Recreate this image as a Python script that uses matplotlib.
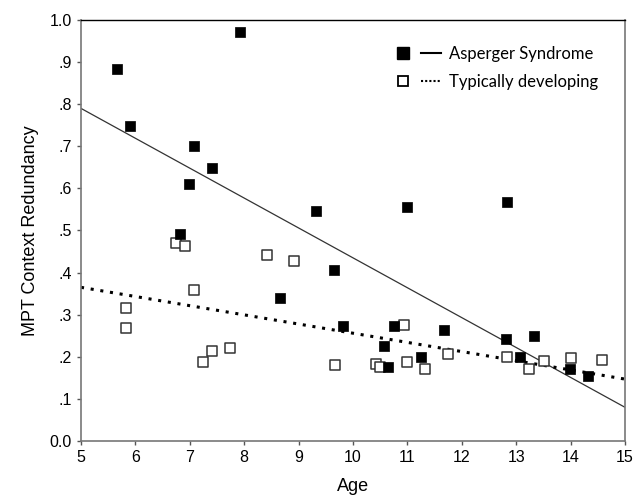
import numpy as np
import matplotlib
matplotlib.use("Agg")
import matplotlib.pyplot as plt
from matplotlib.lines import Line2D
from matplotlib.legend_handler import HandlerTuple

plt.rcParams['font.family'] = ['Liberation Sans', 'DejaVu Sans']

# --- data ---
as_age = [5.66, 5.90, 6.82, 6.98, 7.07, 7.41, 7.92, 8.66, 9.32, 9.65, 9.81,
          10.57, 10.65, 10.75, 10.99, 11.25, 11.67, 12.81, 12.83, 13.07,
          13.33, 13.99, 14.32]
as_red = [0.884, 0.748, 0.491, 0.610, 0.701, 0.649, 0.971, 0.340, 0.546,
          0.406, 0.273, 0.226, 0.176, 0.273, 0.556, 0.200, 0.264, 0.242,
          0.568, 0.200, 0.250, 0.171, 0.154]

td_age = [5.83, 5.83, 6.75, 6.92, 7.08, 7.25, 7.41, 7.74, 8.42, 8.92, 9.67,
          10.42, 10.50, 10.93, 10.99, 11.32, 11.75, 12.83, 13.24, 13.51,
          14.01, 14.58]
td_red = [0.316, 0.268, 0.470, 0.463, 0.359, 0.188, 0.214, 0.221, 0.442,
          0.428, 0.180, 0.183, 0.176, 0.276, 0.188, 0.171, 0.207, 0.200,
          0.171, 0.190, 0.197, 0.192]

# fit lines as drawn in the reference (value at age 5 and age 15)
fit_ages = [5, 15]
as_fit = [0.790, 0.080]
td_fit = [0.365, 0.147]

yticks = [0.0, 0.1, 0.2, 0.3, 0.4, 0.5, 0.6, 0.7, 0.8, 0.9, 1.0]
ytick_labels = ['0.0', '.1', '.2', '.3', '.4', '.5', '.6', '.7', '.8', '.9', '1.0']
xticks = [5, 6, 7, 8, 9, 10, 11, 12, 13, 14, 15]

fig = plt.figure(figsize=(6.44, 4.96), dpi=100)
ax = fig.add_axes([0.1258, 0.1109, 0.8447, 0.8488])

ax.plot(fit_ages, as_fit, color='#333333', lw=0.9, solid_capstyle='butt')
ax.plot(fit_ages, td_fit, color='black', lw=2.2, linestyle=(0, (1, 2.2)))

ax.scatter(td_age, td_red, marker='s', s=52, facecolor='white',
           edgecolor='#333333', linewidth=1.1, zorder=3)
ax.scatter(as_age, as_red, marker='s', s=48, facecolor='black',
           edgecolor='black', linewidth=0.5, zorder=4)

ax.set_xlim(5, 15)
ax.set_ylim(0, 1.0)
ax.set_xticks(xticks)
ax.set_yticks(yticks)
ax.set_yticklabels(ytick_labels)
ax.tick_params(direction='out', length=3, width=1, colors='#555555',
               labelcolor='black', labelsize=11.5)

for side in ['left', 'bottom', 'right']:
    ax.spines[side].set_color('#777777')
    ax.spines[side].set_linewidth(1.2)
ax.spines['top'].set_color('black')
ax.spines['top'].set_linewidth(1.0)

ax.set_xlabel('Age', fontsize=13, labelpad=9)
ax.set_ylabel('MPT Context Redundancy', fontsize=13, labelpad=8)

handles = [
    (Line2D([], [], marker='s', color='black', ls='none', markersize=8),
     Line2D([], [], color='black', lw=1.5)),
    (Line2D([], [], marker='s', markerfacecolor='white', markeredgecolor='black',
            markeredgewidth=1.3, ls='none', markersize=7),
     Line2D([], [], color='black', lw=1.5, linestyle=(0, (1, 1)))),
]
leg = ax.legend(handles, ['Asperger Syndrome', 'Typically developing'],
                handler_map={tuple: HandlerTuple(ndivide=None, pad=0.5)},
                loc='upper right', bbox_to_anchor=(0.978, 0.975), frameon=False,
                prop={'family': 'Lato', 'size': 12}, handlelength=2.8,
                handletextpad=0.5, labelspacing=0.75)

fig.savefig('out.png', dpi=100)
